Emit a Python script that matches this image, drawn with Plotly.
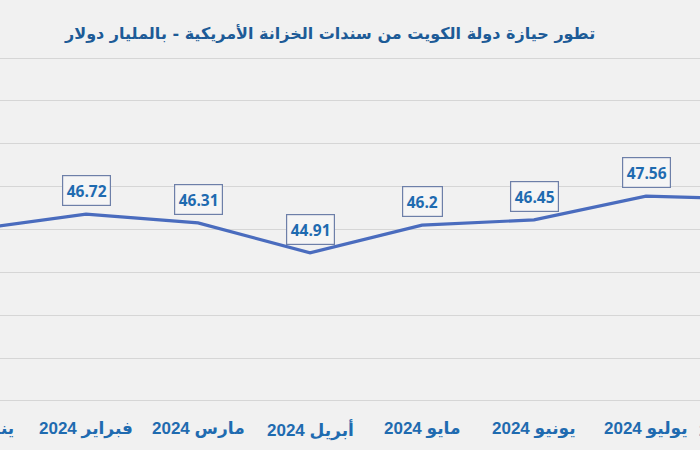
import plotly.graph_objects as go

months = ["يناير 2024", "فبراير 2024", "مارس 2024", "أبريل 2024",
          "مايو 2024", "يونيو 2024", "يوليو 2024", "أغسطس 2024"]
values = [46.0, 46.72, 46.31, 44.91, 46.2, 46.45, 47.56, 47.4]
labeled = [False, True, True, True, True, True, True, False]
title = "تطور حيازة دولة الكويت من سندات الخزانة الأمريكية - بالمليار دولار"

x_idx = list(range(len(months)))
x_range = [0.232, 6.482]
y_range = [37.95, 54.05]

BG = "#f1f1f1"
BLUE_TXT = "#1f6bb0"
LINE = "#4a6cbe"

fig = go.Figure()
fig.add_trace(go.Scatter(
    x=x_idx, y=values, mode="lines",
    line=dict(color=LINE, width=3.2),
    hoverinfo="skip", cliponaxis=True,
))

for i, (v, show) in enumerate(zip(values, labeled)):
    if not show:
        continue
    fig.add_annotation(
        x=i, y=v, xref="x", yref="y", text=f"<b>{v:g}</b>",
        showarrow=False, xanchor="center", yanchor="bottom", yshift=8,
        font=dict(family="Open Sans, DejaVu Sans", size=15.5, color=BLUE_TXT),
        bgcolor="#f5f5f5", bordercolor="#6d7fa8", borderwidth=1.2, borderpad=3.5,
    )

# tick labels, including the one partly cut off at the left edge
for i, m in enumerate(months):
    px = (i - x_range[0]) / (x_range[1] - x_range[0])
    fig.add_annotation(
        x=px, y=0, xref="paper", yref="paper", text=f"<b>{m}</b>",
        showarrow=False, xanchor="center", yanchor="top", yshift=-15,
        font=dict(family="Liberation Sans, DejaVu Sans", size=17, color=BLUE_TXT),
    )

fig.add_annotation(
    x=0.47, y=1, xref="paper", yref="paper", xanchor="center", yanchor="bottom",
    yshift=12,
    text=f"<b>{title}</b>", showarrow=False,
    font=dict(family="DejaVu Sans, Liberation Sans", size=16, color="#1d5b97"),
)

fig.update_layout(
    width=700, height=450,
    margin=dict(l=0, r=0, t=57, b=48),
    paper_bgcolor=BG, plot_bgcolor=BG,
    showlegend=False,
    xaxis=dict(range=x_range, showgrid=False, zeroline=False,
               showticklabels=False, showline=False, fixedrange=True),
    yaxis=dict(range=y_range, dtick=2, tick0=0, showgrid=True, gridcolor="#d6d6d6",
               gridwidth=1, zeroline=False, showticklabels=False,
               showline=False, fixedrange=True),
)

fig.write_html("out.html")
